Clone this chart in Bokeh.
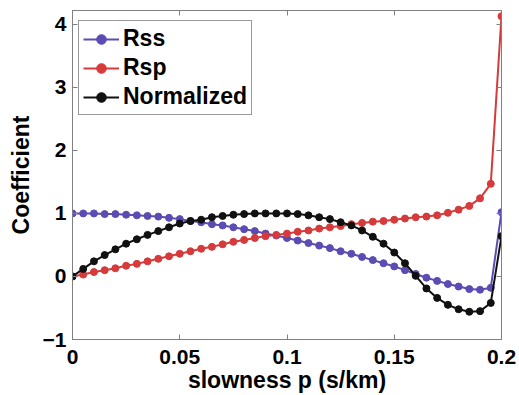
from bokeh.plotting import figure
from bokeh.models import (Range1d, LinearAxis, FixedTicker, CustomJSTickFormatter,
                          Legend, LegendItem, ColumnDataSource)
from bokeh.embed import file_html
from bokeh.resources import INLINE

# slowness p (s/km)
slowness = [0.0, 0.005, 0.01, 0.015, 0.02, 0.025, 0.03, 0.035, 0.04, 0.045,
            0.05, 0.055, 0.06, 0.065, 0.07, 0.075, 0.08, 0.085, 0.09, 0.095,
            0.1, 0.105, 0.11, 0.115, 0.12, 0.125, 0.13, 0.135, 0.14, 0.145,
            0.15, 0.155, 0.16, 0.165, 0.17, 0.175, 0.18, 0.185, 0.19, 0.195,
            0.2]

rss = [1.00, 1.00, 1.00, 0.99, 0.99, 0.98, 0.97, 0.96, 0.95, 0.93,
       0.91, 0.88, 0.86, 0.83, 0.81, 0.78, 0.75, 0.72, 0.68, 0.65,
       0.61, 0.57, 0.53, 0.49, 0.45, 0.40, 0.36, 0.31, 0.26, 0.21,
       0.16, 0.10, 0.04, -0.02, -0.07, -0.12, -0.16, -0.20, -0.21, -0.18,
       1.02]

rsp = [0.00, 0.03, 0.07, 0.10, 0.13, 0.17, 0.20, 0.24, 0.28, 0.32,
       0.36, 0.40, 0.44, 0.47, 0.51, 0.55, 0.58, 0.61, 0.64, 0.66,
       0.68, 0.71, 0.73, 0.76, 0.78, 0.80, 0.83, 0.85, 0.87, 0.88,
       0.90, 0.92, 0.94, 0.95, 0.97, 1.01, 1.06, 1.12, 1.24, 1.47,
       4.13]

normalized = [0.00, 0.12, 0.24, 0.34, 0.43, 0.52, 0.59, 0.66, 0.72, 0.78,
              0.84, 0.88, 0.90, 0.94, 0.96, 0.98, 0.99, 1.00, 1.00, 1.00,
              1.00, 0.99, 0.97, 0.94, 0.91, 0.86, 0.81, 0.73, 0.63, 0.52,
              0.38, 0.21, 0.01, -0.19, -0.34, -0.45, -0.52, -0.56, -0.55, -0.42,
              0.64]

series_names = ["Rss", "Rsp", "Normalized"]
x_ticks = [0, 0.05, 0.1, 0.15, 0.2]
y_ticks = [-1, 0, 1, 2, 3, 4]

FONT = "Liberation Sans"
AX = "#808080"

p = figure(width=519, height=395, output_backend="svg", toolbar_location=None,
           x_range=Range1d(0, 0.2), y_range=Range1d(-1, 4.22),
           min_border_left=72, min_border_right=18, min_border_top=10,
           min_border_bottom=56)
p.xgrid.visible = False
p.ygrid.visible = False
p.outline_line_color = AX
p.background_fill_color = "white"
p.border_fill_color = "white"

fmt = CustomJSTickFormatter(code="return tick.toString().replace('-', '\u2212');")
blank = CustomJSTickFormatter(code="return '';")

def style_axis(ax):
    ax.axis_line_color = AX
    ax.major_tick_line_color = AX
    ax.minor_tick_line_color = None
    ax.major_tick_in = 5
    ax.major_tick_out = 0
    ax.major_label_text_font = FONT
    ax.major_label_text_font_style = "bold"
    ax.major_label_text_color = "black"
    ax.major_label_text_font_size = "21px"
    ax.axis_label_text_font = FONT
    ax.axis_label_text_font_style = "bold"
    ax.axis_label_text_font_size = "23px"
    ax.axis_label_text_color = "black"

p.xaxis.ticker = FixedTicker(ticks=x_ticks)
p.yaxis.ticker = FixedTicker(ticks=y_ticks)
p.xaxis.formatter = fmt
p.yaxis.formatter = fmt
p.xaxis.axis_label = "slowness p (s/km)"
p.yaxis.axis_label = "Coefficient"
style_axis(p.xaxis[0])
style_axis(p.yaxis[0])
p.xaxis.major_label_standoff = 10
p.yaxis.major_label_standoff = 6
p.xaxis.axis_label_standoff = 0
p.yaxis.axis_label_standoff = 6

top = LinearAxis(ticker=FixedTicker(ticks=x_ticks), formatter=blank)
style_axis(top)
top.major_label_standoff = 0
p.add_layout(top, "above")
right = LinearAxis(ticker=FixedTicker(ticks=y_ticks), formatter=blank)
style_axis(right)
right.major_label_standoff = 0
p.add_layout(right, "right")

colors = ["#5a4cb2", "#d63a3a", "#111111"]
items = []
for name, ys, c in zip(series_names, [rss, rsp, normalized], colors):
    src = ColumnDataSource(dict(x=slowness, y=ys))
    l = p.line("x", "y", source=src, line_color=c, line_width=2)
    s = p.scatter("x", "y", source=src, size=7, fill_color=c, line_color=c)
    items.append(LegendItem(label=name, renderers=[l, s]))

legend = Legend(items=items, location=(6, 224))
legend.label_text_font = FONT
legend.label_text_font_style = "bold"
legend.label_text_font_size = "23px"
legend.label_text_color = "black"
legend.border_line_color = "#333333"
legend.border_line_width = 1
legend.background_fill_alpha = 1
legend.padding = 4
legend.spacing = 2
legend.label_height = 24
legend.glyph_height = 24
legend.glyph_width = 36
legend.label_standoff = 4
legend.margin = 0
p.add_layout(legend)

open("out.html", "w").write(file_html(p, INLINE))
